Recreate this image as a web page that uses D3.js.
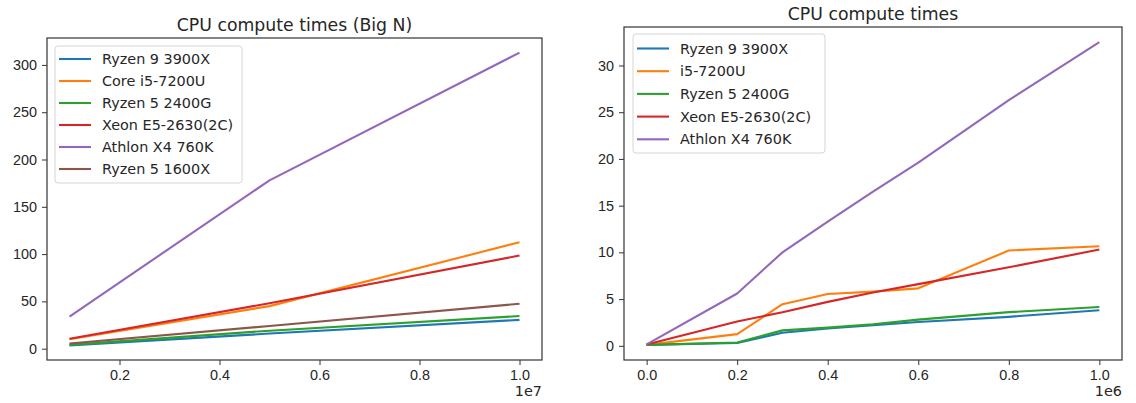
<!DOCTYPE html>
<html lang="en">
<head>
  <meta charset="UTF-8">
  <title>CPU compute times</title>
  <style>
    body {
      margin: 0;
      background: #fff;
      font-family: "DejaVu Sans", sans-serif;
    }
    svg {
      display: block;
    }
    .tick text {
      font-size: 14.4px;
      fill: #262626;
    }
    .tick line {
      stroke: #333;
    }
    .title {
      font-size: 17.3px;
      fill: #262626;
    }
    .legend text {
      font-size: 14.4px;
      fill: #262626;
    }
    .series {
      fill: none;
      stroke-width: 2.1px;
      stroke-linejoin: round;
    }
  </style>
</head>
<body>
  <svg width="1136" height="403"></svg>
  <script src="https://d3js.org/d3.v7.min.js"></script>
  <script>
    // tab10 colours
    const colors = ["#1f77b4", "#ff7f0e", "#2ca02c", "#d62728", "#9467bd", "#8c564b"];

    // left chart: big N
    const bigN = [1e6, 5e6, 1e7];
    const bigNames = ["Ryzen 9 3900X", "Core i5-7200U", "Ryzen 5 2400G", "Xeon E5-2630(2C)", "Athlon X4 760K", "Ryzen 5 1600X"];
    const bigRyzen9 = [3.5, 16, 30.5];
    const bigCoreI5 = [10, 45, 112.5];
    const bigRyzen5g = [4, 19, 34.5];
    const bigXeon = [10.5, 48, 98.5];
    const bigAthlon = [34, 178, 313];
    const bigRyzen1600 = [5.5, 24, 47.5];
    const bigXTicks = [2e6, 4e6, 6e6, 8e6, 1e7];
    const bigYTicks = [0, 50, 100, 150, 200, 250, 300];

    // right chart: small N
    const smallN = [0, 2e5, 3e5, 4e5, 5e5, 6e5, 8e5, 1e6];
    const smallNames = ["Ryzen 9 3900X", "i5-7200U", "Ryzen 5 2400G", "Xeon E5-2630(2C)", "Athlon X4 760K"];
    const smallRyzen9 = [0.1, 0.3, 1.4, 1.85, 2.2, 2.55, 3.1, 3.8];
    const smallI5 = [0.1, 1.25, 4.45, 5.55, 5.8, 6.15, 10.2, 10.65];
    const smallRyzen5g = [0.1, 0.35, 1.65, 1.95, 2.3, 2.8, 3.6, 4.15];
    const smallXeon = [0.15, 2.6, 3.6, 4.7, 5.7, 6.6, 8.4, 10.3];
    const smallAthlon = [0.15, 5.6, 10.0, 13.3, 16.5, 19.6, 26.3, 32.5];
    const smallXTicks = [0, 2e5, 4e5, 6e5, 8e5, 1e6];
    const smallYTicks = [0, 5, 10, 15, 20, 25, 30];

    const svg = d3.select("svg");

    // matplotlib-style 5% margins around the data
    function padded(values) {
      const [lo, hi] = d3.extent(values);
      const m = (hi - lo) * 0.05;
      return [lo - m, hi + m];
    }

    function drawPanel(cfg) {
      const { left, right, top, bottom } = cfg.box;
      const allY = cfg.series.flat();

      const x = d3.scaleLinear().domain(padded(cfg.xs)).range([left, right]);
      const y = d3.scaleLinear().domain(padded(allY)).range([bottom, top]);

      const g = svg.append("g");

      // lines
      const line = d3.line()
        .x((d, i) => x(cfg.xs[i]))
        .y(d => y(d));

      g.selectAll("path.series")
        .data(cfg.series)
        .join("path")
        .attr("class", "series")
        .attr("stroke", (d, i) => colors[i])
        .attr("d", line);

      // axes
      g.append("g")
        .attr("transform", `translate(0,${bottom})`)
        .call(d3.axisBottom(x)
          .tickValues(cfg.xTicks)
          .tickFormat(d => (d / cfg.xScale).toFixed(1))
          .tickSize(5).tickSizeOuter(0).tickPadding(5))
        .call(a => a.select(".domain").remove());

      g.append("g")
        .attr("transform", `translate(${left},0)`)
        .call(d3.axisLeft(y)
          .tickValues(cfg.yTicks)
          .tickFormat(d3.format("d"))
          .tickSize(5).tickSizeOuter(0).tickPadding(5))
        .call(a => a.select(".domain").remove());

      g.selectAll(".tick text").attr("font-family", null).attr("font-size", null);

      // frame
      g.append("rect")
        .attr("x", left).attr("y", top)
        .attr("width", right - left).attr("height", bottom - top)
        .attr("fill", "none")
        .attr("stroke", "#333")
        .attr("stroke-width", 1.2);

      // offset label
      g.append("text")
        .attr("x", right)
        .attr("y", bottom + 36)
        .attr("text-anchor", "end")
        .attr("font-size", 14.4)
        .attr("fill", "#262626")
        .text(cfg.offsetText);

      // title
      g.append("text")
        .attr("class", "title")
        .attr("x", (left + right) / 2)
        .attr("y", top - 7.5)
        .attr("text-anchor", "middle")
        .text(cfg.title);

      // legend
      const L = cfg.legend;
      const lg = g.append("g").attr("class", "legend");
      lg.append("rect")
        .attr("x", L.x).attr("y", L.y)
        .attr("width", L.w).attr("height", L.h)
        .attr("rx", 3)
        .attr("fill", "#fff").attr("fill-opacity", 0.8)
        .attr("stroke", "#d6d6d6");

      const rows = lg.selectAll("g.row")
        .data(cfg.names)
        .join("g")
        .attr("class", "row")
        .attr("transform", (d, i) => `translate(0,${L.firstRow + i * L.step})`);

      rows.append("line")
        .attr("x1", L.x + 4).attr("x2", L.x + 36)
        .attr("stroke", (d, i) => colors[i])
        .attr("stroke-width", 2.1);

      rows.append("text")
        .attr("x", L.x + 47)
        .attr("dy", "0.36em")
        .text(d => d);
    }

    drawPanel({
      box: { left: 47, right: 542, top: 38, bottom: 360 },
      xs: bigN,
      series: [bigRyzen9, bigCoreI5, bigRyzen5g, bigXeon, bigAthlon, bigRyzen1600],
      names: bigNames,
      xTicks: bigXTicks,
      yTicks: bigYTicks,
      xScale: 1e7,
      offsetText: "1e7",
      title: "CPU compute times (Big N)",
      legend: { x: 55, y: 46, w: 187, h: 137, firstRow: 59, step: 22 }
    });

    drawPanel({
      box: { left: 624, right: 1122, top: 27, bottom: 360 },
      xs: smallN,
      series: [smallRyzen9, smallI5, smallRyzen5g, smallXeon, smallAthlon],
      names: smallNames,
      xTicks: smallXTicks,
      yTicks: smallYTicks,
      xScale: 1e6,
      offsetText: "1e6",
      title: "CPU compute times",
      legend: { x: 633, y: 34, w: 192, h: 119, firstRow: 48.5, step: 22.7 }
    });
  </script>
</body>
</html>
